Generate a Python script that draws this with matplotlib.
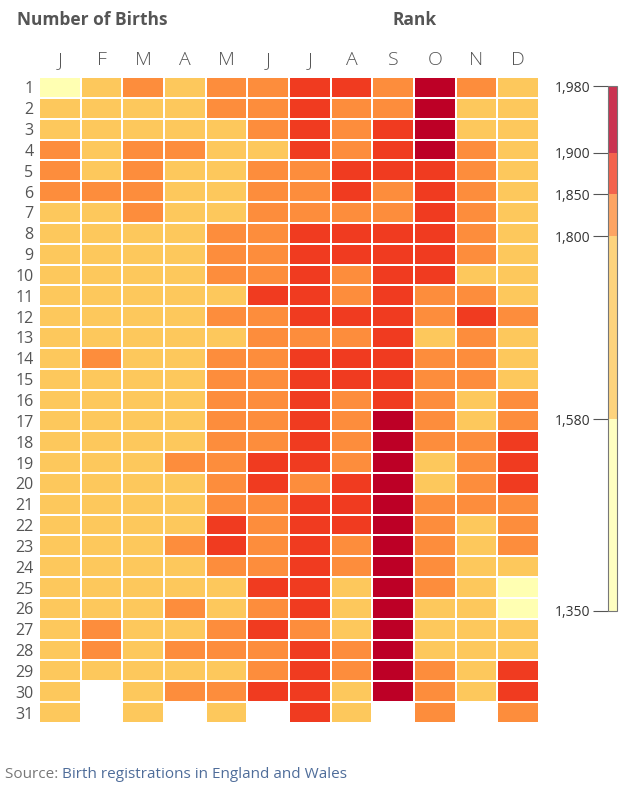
import numpy as np
import matplotlib.pyplot as plt
from matplotlib.colors import ListedColormap, BoundaryNorm
from matplotlib.colorbar import Colorbar

plt.rcParams['font.family'] = ['Open Sans', 'DejaVu Sans']

months = ['J', 'F', 'M', 'A', 'M', 'J', 'J', 'A', 'S', 'O', 'N', 'D']
days = list(range(1, 32))

# average number of births per calendar day
jan = [1420, 1710, 1710, 1825, 1825, 1825, 1710, 1710, 1710, 1710, 1710, 1710, 1710, 1710, 1710, 1710,
       1710, 1710, 1710, 1710, 1710, 1710, 1710, 1710, 1710, 1710, 1710, 1710, 1710, 1710, 1710]
feb = [1710, 1710, 1710, 1710, 1710, 1825, 1710, 1710, 1710, 1710, 1710, 1710, 1710, 1825, 1710, 1710,
       1710, 1710, 1710, 1710, 1710, 1710, 1710, 1710, 1710, 1710, 1825, 1825, 1710]
mar = [1825, 1710, 1710, 1825, 1825, 1825, 1825, 1710, 1710, 1710, 1710, 1710, 1710, 1710, 1710, 1710,
       1710, 1710, 1710, 1710, 1710, 1710, 1710, 1710, 1710, 1710, 1710, 1710, 1710, 1710, 1710]
apr = [1710, 1710, 1710, 1825, 1710, 1710, 1710, 1710, 1710, 1710, 1710, 1710, 1710, 1710, 1710, 1710,
       1710, 1710, 1825, 1710, 1710, 1710, 1825, 1710, 1710, 1825, 1710, 1825, 1710, 1825]
may = [1825, 1825, 1710, 1710, 1710, 1710, 1710, 1825, 1825, 1825, 1710, 1825, 1710, 1825, 1825, 1825,
       1825, 1825, 1825, 1825, 1825, 1875, 1875, 1825, 1710, 1710, 1825, 1825, 1710, 1825, 1710]
jun = [1825, 1825, 1825, 1710, 1825, 1825, 1825, 1825, 1825, 1825, 1875, 1825, 1825, 1825, 1825, 1825,
       1825, 1825, 1875, 1875, 1825, 1825, 1825, 1825, 1875, 1825, 1875, 1825, 1825, 1875]
jul = [1875, 1875, 1875, 1875, 1825, 1825, 1825, 1875, 1875, 1875, 1875, 1875, 1825, 1875, 1875, 1875,
       1875, 1875, 1875, 1825, 1875, 1875, 1875, 1875, 1875, 1875, 1825, 1875, 1875, 1875, 1875]
aug = [1875, 1825, 1825, 1825, 1875, 1875, 1825, 1875, 1875, 1825, 1825, 1875, 1825, 1875, 1875, 1825,
       1825, 1825, 1825, 1875, 1875, 1875, 1825, 1825, 1710, 1710, 1710, 1825, 1825, 1710, 1710]
sep = [1825, 1825, 1875, 1875, 1875, 1825, 1825, 1875, 1875, 1875, 1875, 1875, 1875, 1875, 1875, 1875,
       1945, 1945, 1945, 1945, 1945, 1945, 1945, 1945, 1945, 1945, 1945, 1945, 1945, 1945]
oct = [1980, 1945, 1945, 1945, 1875, 1875, 1875, 1875, 1875, 1875, 1825, 1825, 1710, 1825, 1825, 1825,
       1825, 1825, 1710, 1710, 1825, 1825, 1825, 1825, 1825, 1710, 1710, 1710, 1825, 1825, 1825]
nov = [1825, 1710, 1710, 1825, 1825, 1825, 1825, 1825, 1825, 1710, 1825, 1875, 1825, 1825, 1825, 1710,
       1710, 1825, 1825, 1825, 1825, 1710, 1710, 1710, 1710, 1710, 1710, 1710, 1710, 1710]
dec = [1710, 1710, 1710, 1710, 1710, 1710, 1710, 1710, 1710, 1710, 1710, 1825, 1710, 1710, 1710, 1825,
       1825, 1875, 1875, 1875, 1825, 1825, 1825, 1710, 1360, 1390, 1710, 1710, 1875, 1875, 1825]

births = [jan, feb, mar, apr, may, jun, jul, aug, sep, oct, nov, dec]

bounds = [1350, 1580, 1800, 1850, 1900, 1980]
colors = ['#ffffb2', '#fdc85c', '#fd8d3c', '#f03b20', '#bd0026']

grid = np.full((31, 12), np.nan)
for j, m in enumerate(births):
    grid[:len(m), j] = m
grid = np.ma.masked_invalid(grid)

cmap = ListedColormap(colors)
norm = BoundaryNorm(bounds, cmap.N)

fig = plt.figure(figsize=(6.4, 7.95), dpi=100)
ax = fig.add_axes([39/640, 1 - 723/795, 500/640, 646/795])
ax.pcolormesh(grid, cmap=cmap, norm=norm, edgecolors='white', linewidth=1.4)
ax.set_xlim(0, 12)
ax.set_ylim(31, 0)
ax.xaxis.tick_top()
ax.set_xticks(np.arange(12) + 0.5, months, fontweight='light')
ax.set_yticks(np.arange(31) + 0.5, days)
ax.tick_params(axis='x', length=0, pad=6, labelsize=14, labelcolor='#555555')
ax.tick_params(axis='y', length=0, pad=4, labelsize=11.5, labelcolor='#555555')
for s in ax.spines.values():
    s.set_visible(False)

# colour legend
cax = fig.add_axes([608/640, 1 - 611/795, 9/640, 525/795])
cb = Colorbar(cax, cmap=cmap, norm=norm, ticks=bounds, spacing='proportional', alpha=0.8)
cb.outline.set_edgecolor('#777777')
cb.outline.set_linewidth(0.8)
cax.yaxis.set_ticks_position('left')
cax.set_yticklabels(['{:,}'.format(b) for b in bounds])
cax.tick_params(length=11, width=0.8, color='#555555', pad=2, labelsize=10, labelcolor='#333333')

fig.text(17/640, 1 - 20/795, 'Number of Births', fontsize=12.5, weight='bold', color='#555555', va='center')
fig.text(415/640, 1 - 20/795, 'Rank', fontsize=12.5, weight='bold', color='#555555', va='center', ha='center')

src = fig.text(5/640, 1 - 775/795, 'Source: ', fontsize=11, color='#777777', va='center')
fig.text(0, 0, 'Birth registrations in England and Wales', fontsize=11, color='#4f6d9a')
plt.draw()
r = fig.canvas.get_renderer()
bb = src.get_window_extent(r)
fig.texts[-1].set_position((bb.x1 / fig.bbox.width, 1 - 775/795))
fig.texts[-1].set_va('center')

fig.savefig('out.png', dpi=100)
